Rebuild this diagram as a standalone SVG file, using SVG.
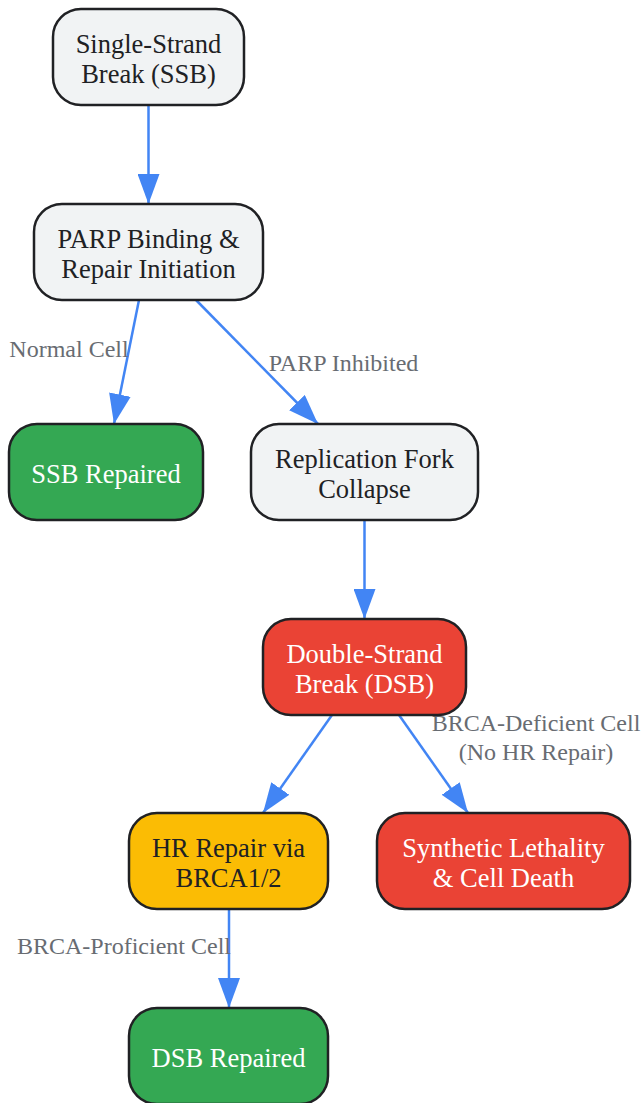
<svg xmlns="http://www.w3.org/2000/svg" width="644" height="1103" viewBox="0 0 644 1103">
<style>
.node rect{stroke:#202124;stroke-width:2.5}
.g rect{fill:#F1F3F4}.gr rect{fill:#34A853}.rd rect{fill:#EA4335}.yl rect{fill:#FBBC04}
.node text{font-family:"Liberation Serif",serif;font-size:26.5px;text-anchor:middle;dominant-baseline:central}
.g text,.yl text{fill:#202124}.gr text,.rd text{fill:#FFFFFF}
.edges line{stroke:#4285F4;stroke-width:2.5;fill:none}
.lbl{font-family:"Liberation Serif",serif;font-size:24px;fill:#686c72;text-anchor:middle;dominant-baseline:central}
</style>
<defs>
<marker id="ah" markerUnits="userSpaceOnUse" markerWidth="30" markerHeight="22" refX="30" refY="11" orient="auto" viewBox="0 0 30 22">
<path d="M0,0 L30,11 L0,22 z" fill="#4285F4"/>
</marker>
</defs>
<rect width="644" height="1103" fill="#FFFFFF"/>
<g class="edges">
<line x1="148.5" y1="105" x2="148.5" y2="204" marker-end="url(#ah)"/>
<line x1="139" y1="300" x2="114" y2="424" marker-end="url(#ah)"/>
<line x1="196" y1="300" x2="318" y2="424" marker-end="url(#ah)"/>
<line x1="364.5" y1="520" x2="364.5" y2="619" marker-end="url(#ah)"/>
<line x1="332" y1="715" x2="263" y2="813" marker-end="url(#ah)"/>
<line x1="399" y1="715" x2="468" y2="813" marker-end="url(#ah)"/>
<line x1="229" y1="909" x2="229" y2="1008" marker-end="url(#ah)"/>
<text class="lbl" x="69" y="349">Normal Cell</text>
<text class="lbl" x="343.5" y="363">PARP Inhibited</text>
<text class="lbl" x="536" y="723">BRCA-Deficient Cell</text>
<text class="lbl" x="536" y="752">(No HR Repair)</text>
<text class="lbl" x="124" y="946">BRCA-Proficient Cell</text>
</g>
<g id="ssb" class="node g"><rect x="53" y="9" width="191" height="96" rx="28"/><text x="148.5" y="44">Single-Strand</text><text x="148.5" y="74">Break (SSB)</text></g>
<g id="parp" class="node g"><rect x="34" y="204" width="229" height="96" rx="28"/><text x="148.5" y="239">PARP Binding &amp;</text><text x="148.5" y="269">Repair Initiation</text></g>
<g id="ssbrep" class="node gr"><rect x="9" y="424" width="194" height="96" rx="28"/><text x="106" y="474">SSB Repaired</text></g>
<g id="fork" class="node g"><rect x="251" y="424" width="227" height="96" rx="28"/><text x="364.5" y="459">Replication Fork</text><text x="364.5" y="489">Collapse</text></g>
<g id="dsb" class="node rd"><rect x="263" y="619" width="203" height="96" rx="28"/><text x="364.5" y="654">Double-Strand</text><text x="364.5" y="684">Break (DSB)</text></g>
<g id="hr" class="node yl"><rect x="129" y="813" width="199" height="96" rx="28"/><text x="228.5" y="848">HR Repair via</text><text x="228.5" y="878">BRCA1/2</text></g>
<g id="lethal" class="node rd"><rect x="377" y="813" width="253" height="96" rx="28"/><text x="503.5" y="848">Synthetic Lethality</text><text x="503.5" y="878">&amp; Cell Death</text></g>
<g id="dsbrep" class="node gr"><rect x="129" y="1008" width="199" height="96" rx="28"/><text x="228.5" y="1058">DSB Repaired</text></g>
</svg>
